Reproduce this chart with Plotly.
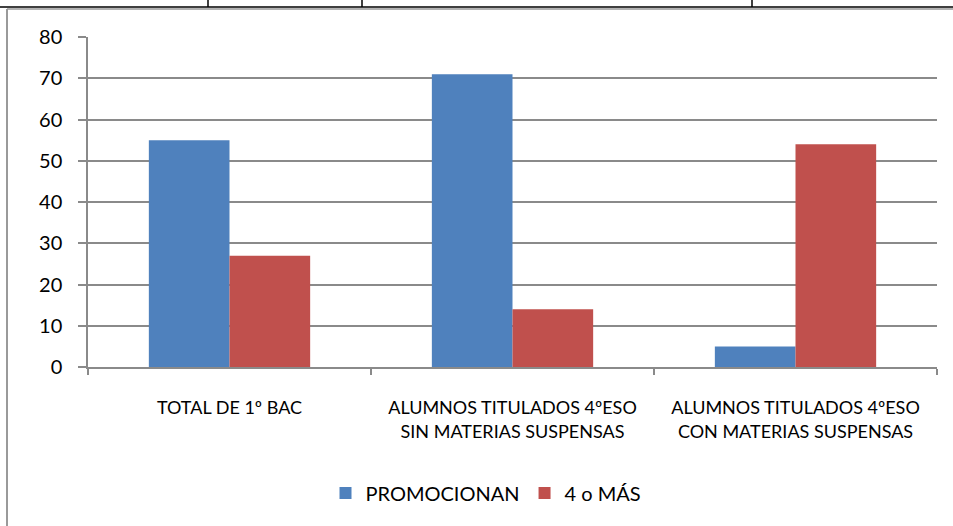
import plotly.graph_objects as go

# data
categories = ["TOTAL DE 1º BAC",
              "ALUMNOS TITULADOS 4ºESO<br>SIN MATERIAS SUSPENSAS",
              "ALUMNOS TITULADOS 4ºESO<br>CON MATERIAS SUSPENSAS"]
promocionan = [55, 71, 5]
cuatro_o_mas = [27, 14, 54]

W, H = 953, 526
L, R, T, B = 88, 16, 37, 159
pw, ph = W - L - R, H - T - B

def px(x):
    return (x - L) / pw

def py(y):
    return (H - B - y) / ph

fig = go.Figure()
fig.add_trace(go.Bar(x=categories, y=promocionan, name="PROMOCIONAN",
                     marker=dict(color="#4F81BD", line=dict(width=0))))
fig.add_trace(go.Bar(x=categories, y=cuatro_o_mas, name="4 o MÁS",
                     marker=dict(color="#C0504D", line=dict(width=0))))

grid = "#8a8a8a"
fig.update_layout(
    width=W, height=H,
    margin=dict(l=L, r=R, t=T, b=B),
    paper_bgcolor="white", plot_bgcolor="white",
    barmode="group", bargap=0.43, bargroupgap=0,
    font=dict(family="Lato, Open Sans, sans-serif", color="#000000"),
    legend=dict(orientation="h", x=px(486), xanchor="center",
                y=py(493), yanchor="middle", font=dict(size=20),
                itemwidth=30, traceorder="normal"),
    xaxis=dict(showgrid=False, showline=True, linecolor=grid, linewidth=1.5,
               ticks="outside", ticklen=6, tickcolor=grid, tickwidth=1.5,
               tickson="boundaries", tickfont=dict(size=18),
               ticklabelstandoff=24),
    yaxis=dict(range=[0, 80], dtick=10, showgrid=True, gridcolor=grid,
               gridwidth=1.5, showline=True, linecolor=grid, linewidth=1.5,
               ticks="outside", ticklen=8, tickcolor=grid, tickwidth=1.5,
               tickfont=dict(size=20), ticklabelstandoff=12, zeroline=False),
    showlegend=True,
)

# frame remnants around the chart (table lines)
shapes = [
    dict(type="line", xref="paper", yref="paper", x0=px(0), x1=px(W),
         y0=py(7), y1=py(7), line=dict(color="black", width=1.5)),
    dict(type="line", xref="paper", yref="paper", x0=px(7), x1=px(W),
         y0=py(9), y1=py(9), line=dict(color="#9a9a9a", width=1.5)),
    dict(type="line", xref="paper", yref="paper", x0=px(7), x1=px(7),
         y0=py(9), y1=py(H), line=dict(color="#9a9a9a", width=2)),
]
for xv in [208, 362, 752]:
    shapes.append(dict(type="line", xref="paper", yref="paper", x0=px(xv), x1=px(xv),
                       y0=py(0), y1=py(7), line=dict(color="black", width=1.5)))
fig.update_layout(shapes=shapes)

fig.write_html("out.html", config={"displayModeBar": False},
               post_script="document.body.style.margin='0';")
